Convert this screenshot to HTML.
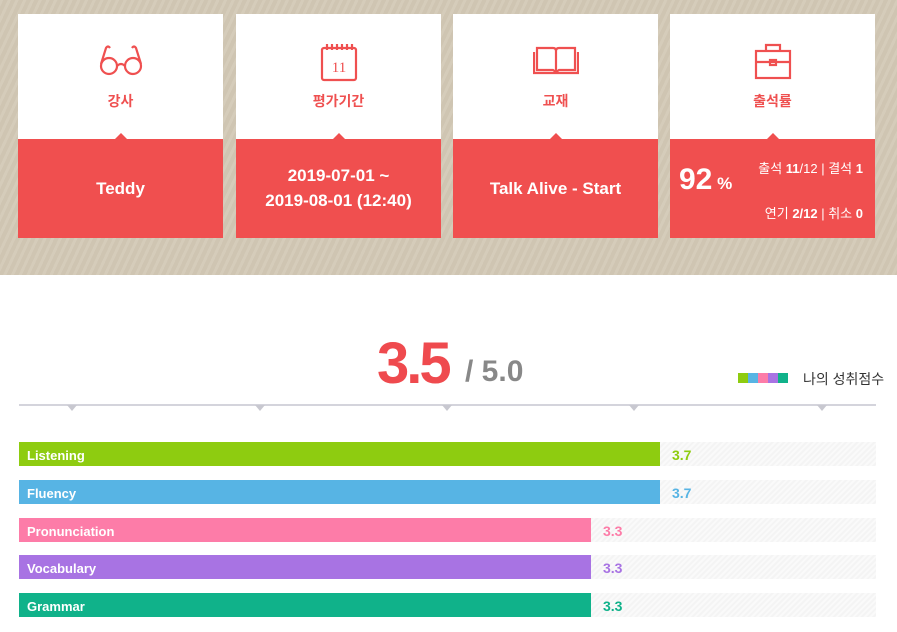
<!DOCTYPE html>
<html><head><meta charset="utf-8"><style>
*{margin:0;padding:0;box-sizing:border-box}
body{width:897px;height:632px;background:#fff;font-family:"Liberation Sans","Noto Sans CJK KR",sans-serif;position:relative;overflow:hidden}
.top{position:absolute;left:0;top:0;width:897px;height:275px;background:#d3c9b6;background-image:repeating-linear-gradient(115deg,rgba(255,255,255,0.05) 0 3px,rgba(0,0,0,0.02) 3px 7px)}
.card{position:absolute;top:14px;width:205px;height:224px;background:#fff}
.card .red{position:absolute;left:0;top:125px;width:100%;height:99px;background:#f04f4f;color:#fff;font-weight:bold;font-size:17px;text-align:center}
.card .red:before{content:"";position:absolute;left:50%;top:-6px;margin-left:-6px;border:6px solid transparent;border-top:0;border-bottom-color:#f04f4f}
.card .lab{position:absolute;top:77px;width:100%;text-align:center;color:#ef5050;font-size:14px;font-weight:bold}
.card svg{position:absolute;left:50%;top:28px;transform:translateX(-50%)}
.bar{position:absolute;left:19px;width:857px;height:24px;background:repeating-linear-gradient(135deg,#f4f4f4 0 2px,#fafafa 2px 4px)}
.bar .f{position:absolute;left:0;top:0;height:24px;color:#fff;font-weight:bold;font-size:13px;line-height:27px;padding-left:8px}
.bar .v{position:absolute;top:0;font-weight:bold;font-size:14px;line-height:26px}
.tri{position:absolute;top:405px;border:5px solid transparent;border-top:6px solid #c8c8d0;border-bottom:0}
</style></head><body>
<div class="top"></div>
<div class="card" style="left:18px">
<svg width="48" height="36" viewBox="0 0 48 36" fill="none" stroke="#ef5050" stroke-width="2.2"><circle cx="12" cy="24" r="8"/><circle cx="36" cy="24" r="8"/><path d="M20 24q4-4 8 0M4 22L9 6q2-3 4 0M44 22L39 6q-2-3-4 0"/></svg>
<div class="lab">강사</div><div class="red" style="line-height:99px">Teddy</div></div>
<div class="card" style="left:236px">
<svg width="40" height="40" viewBox="0 0 40 40" fill="none" stroke="#ef5050" stroke-width="2.2"><rect x="3" y="6" width="34" height="32" rx="2"/><path d="M8 2v6M13 2v6M18 2v6M23 2v6M28 2v6M33 2v6"/><text x="20" y="30" font-size="15" text-anchor="middle" fill="#ef5050" stroke="none" font-family="Liberation Serif">11</text></svg>
<div class="lab">평가기간</div><div class="red" style="padding-top:24px;line-height:25px">2019-07-01 ~<br>2019-08-01 (12:40)</div></div>
<div class="card" style="left:453px">
<svg width="46" height="34" viewBox="0 0 46 34" fill="none" stroke="#ef5050" stroke-width="2.2"><path d="M23 8v22M4 6h16q3 0 3 3 0-3 3-3h16v22H26l-3 2-3-2H4z"/><path d="M1 10v21h44V10"/></svg>
<div class="lab">교재</div><div class="red" style="line-height:99px">Talk Alive - Start</div></div>
<div class="card" style="left:670px">
<svg width="40" height="38" viewBox="0 0 40 38" fill="none" stroke="#ef5050" stroke-width="2.2"><rect x="3" y="9" width="34" height="27"/><path d="M13 9V3h14v6M3 20h34"/><rect x="17" y="18" width="6" height="5"/></svg>
<div class="lab">출석률</div><div class="red" style="text-align:left">
<span style="position:absolute;left:9px;top:24px;font-size:30px">92<span style="font-size:17px"> %</span></span>
<span style="position:absolute;right:12px;top:19px;font-size:13px;font-weight:normal">출석 <b>11</b>/12 | 결석 <b>1</b></span>
<span style="position:absolute;right:12px;top:64px;font-size:13px;font-weight:normal">연기 <b>2/12</b> | 취소 <b>0</b></span></div></div>

<div style="position:absolute;left:377px;top:330px;font-size:58px;color:#ef4a4e;font-weight:bold;letter-spacing:-3px">3.5</div>
<div style="position:absolute;left:465px;top:355px;font-size:30px;color:#888;font-weight:bold">/ 5.0</div>
<div style="position:absolute;left:738px;top:373px;width:50px;height:10px;background:linear-gradient(90deg,#8ecc10 0 20%,#57b4e4 20% 40%,#fd7ca8 40% 60%,#a873e3 60% 80%,#10b28a 80%)"></div>
<div style="position:absolute;left:803px;top:369px;font-size:14px;color:#333">나의 성취점수</div>
<div style="position:absolute;left:19px;top:404px;width:857px;height:2px;background:#d4d4dc"></div>
<div class="tri" style="left:67px"></div><div class="tri" style="left:255px"></div><div class="tri" style="left:442px"></div><div class="tri" style="left:629px"></div><div class="tri" style="left:817px"></div>

<div class="bar" style="top:442px"><div class="f" style="width:641px;background:#8ecc10">Listening</div><div class="v" style="left:653px;color:#8ecc10">3.7</div></div>
<div class="bar" style="top:480px"><div class="f" style="width:641px;background:#57b4e4">Fluency</div><div class="v" style="left:653px;color:#57b4e4">3.7</div></div>
<div class="bar" style="top:518px"><div class="f" style="width:572px;background:#fd7ca8">Pronunciation</div><div class="v" style="left:584px;color:#fd7ca8">3.3</div></div>
<div class="bar" style="top:555px"><div class="f" style="width:572px;background:#a873e3">Vocabulary</div><div class="v" style="left:584px;color:#a873e3">3.3</div></div>
<div class="bar" style="top:593px"><div class="f" style="width:572px;background:#10b28a">Grammar</div><div class="v" style="left:584px;color:#10b28a">3.3</div></div>
</body></html>
